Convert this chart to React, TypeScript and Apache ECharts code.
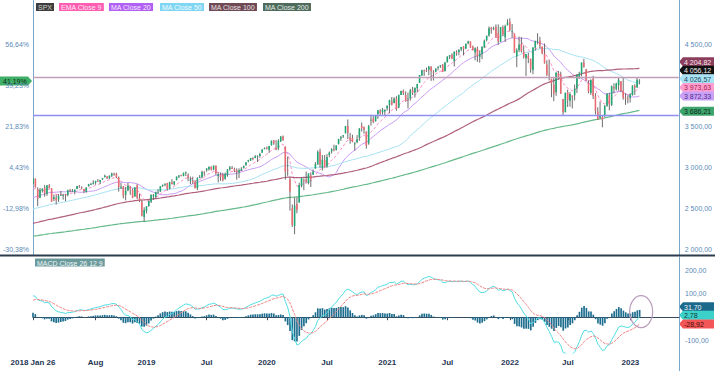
import React, { useEffect, useRef } from "react";
import * as echarts from "echarts";

const FONT = "'Liberation Sans', Arial, Helvetica, sans-serif";

// Weekly closes before the visible window (warm-up for the averages / MACD)
const preCloses2014 = [1865,1815,1864,1863,1881,1878,1878,1900,1924,1949,1937,1963,1961,1985,1968,1978,1978,1925,1931,1955,1988,2003,2008,1985,2010,1982,1968,1906,1887,1965,2018,2032,2039,2064,2068,2075,2003,2071,2089];
const preCloses2015 = [2058,2045,2019,2051,1995,2055,2097,2110,2105,2071,2053,2108,2061,2067,2102,2081,2117,2108,2116,2123,2126,2107,2092,2094,2110,2102,2077,2077,2127,2080,2104,2078,2092,1971,1989,1921,1961,1958,1931,1951,2015,2033,2075,2079,2099,2023,2089,2090,2092,2012,2006,2061,2044];
const preCloses2016 = [1922,1880,1907,1940,1880,1865,1918,1948,2000,2022,2050,2035,2073,2048,2081,2092,2065,2057,2047,2052,2099,2099,2096,2071,2037,2103,2130,2162,2175,2174,2183,2184,2184,2169,2180,2128,2139,2165,2168,2153,2133,2141,2126,2085,2164,2182,2213,2192,2260,2258,2264,2239];
const preCloses2017 = [2277,2275,2271,2295,2297,2316,2351,2367,2383,2373,2378,2344,2363,2356,2329,2349,2384,2399,2391,2382,2416,2439,2432,2433,2438,2423,2425,2459,2473,2472,2477,2441,2426,2443,2477,2461,2500,2502,2519,2549,2553,2575,2581,2588,2582,2579,2602,2642,2652,2675,2683,2674];
const preCloses2018 = [2743,2786,2810];

// Weekly candles from 2018-01-26: [open, high, low, close]
const ohlc2018 = [[2809,2873,2803,2872.87],[2867,2870,2759,2762],[2741,2763,2533,2620],[2636,2754,2631,2732],[2722,2748,2699,2747],[2754,2790,2648,2691],[2681,2787,2658,2787],[2783,2802,2747,2752],[2750,2753,2585,2588],[2619,2675,2594,2641],[2634,2673,2553,2604],[2614,2680,2586,2656],[2670,2718,2660,2670],[2660,2683,2612,2670],[2675,2683,2594,2663],[2669,2733,2652,2728],[2728,2743,2702,2713],[2717,2742,2707,2721],[2705,2736,2676,2735],[2742,2780,2739,2779],[2781,2790,2755,2780],[2764,2774,2742,2755],[2742,2744,2692,2718],[2705,2763,2699,2760],[2776,2804,2770,2801],[2797,2816,2788,2802],[2806,2848,2796,2819],[2820,2841,2795,2840],[2840,2863,2832,2833],[2827,2853,2802,2850],[2858,2877,2853,2875],[2884,2917,2884,2902],[2896,2896,2864,2872],[2871,2906,2867,2905],[2903,2941,2886,2930],[2926,2940,2904,2914],[2927,2940,2874,2886],[2882,2894,2710,2767],[2763,2817,2742,2768],[2773,2779,2628,2659],[2669,2767,2604,2723],[2727,2815,2714,2781],[2773,2775,2671,2736],[2730,2747,2631,2633],[2650,2760,2649,2760],[2790,2800,2621,2633],[2630,2686,2583,2600],[2590,2607,2409,2417],[2401,2520,2347,2486]];
const ohlc2019 = [[2476,2532,2444,2532],[2535,2604,2525,2596],[2586,2675,2571,2671],[2652,2681,2612,2665],[2644,2708,2631,2707],[2708,2739,2682,2708],[2712,2776,2704,2776],[2780,2795,2766,2793],[2804,2813,2775,2804],[2814,2816,2722,2743],[2748,2831,2738,2822],[2823,2861,2800,2801],[2797,2836,2785,2834],[2848,2893,2848,2893],[2892,2911,2874,2907],[2910,2916,2896,2905],[2898,2940,2898,2940],[2940,2954,2900,2946],[2908,2932,2836,2881],[2841,2892,2801,2860],[2841,2892,2805,2826],[2830,2841,2750,2752],[2752,2885,2728,2873],[2886,2911,2874,2887],[2886,2964,2873,2950],[2952,2958,2903,2942],[2972,2995,2952,2990],[2981,3014,2966,3014],[3012,3018,2968,2977],[2978,3028,2970,3026],[3025,3028,2914,2932],[2898,2944,2822,2919],[2916,2943,2840,2889],[2912,2939,2835,2847],[2867,2941,2854,2926],[2909,2985,2891,2979],[2981,3021,2965,3007],[2996,3022,2985,2992],[2983,3002,2946,2962],[2967,2993,2856,2952],[2944,2993,2875,2970],[2966,3008,2962,2986],[2996,3027,2991,3023],[3035,3067,3023,3067],[3079,3097,3066,3093],[3089,3120,3081,3120],[3118,3128,3091,3110],[3118,3154,3117,3141],[3144,3150,3070,3146],[3142,3182,3123,3169],[3183,3226,3183,3221],[3227,3248,3226,3240]];
const ohlc2020 = [[3248,3258,3222,3235],[3218,3267,3181,3265],[3274,3330,3270,3330],[3333,3338,3280,3295],[3248,3337,3214,3226],[3235,3348,3214,3328],[3318,3385,3316,3380],[3380,3393,3328,3338],[3258,3259,2856,2954],[2974,3137,2902,2972],[2863,2883,2478,2711],[2508,2554,2280,2305],[2291,2637,2192,2541],[2558,2641,2447,2489],[2579,2819,2575,2790],[2782,2880,2761,2875],[2845,2871,2728,2837],[2855,2954,2816,2831],[2815,2931,2798,2930],[2908,2945,2766,2864],[2914,2980,2913,2955],[2994,3069,2987,3044],[3039,3212,3039,3194],[3199,3233,2999,3041],[3000,3156,2966,3098],[3095,3155,3004,3009],[3018,3166,2999,3130],[3155,3198,3128,3185],[3201,3238,3174,3225],[3224,3280,3200,3216],[3219,3273,3210,3271],[3288,3352,3284,3351],[3357,3387,3327,3373],[3381,3399,3363,3397],[3419,3509,3419,3508],[3507,3588,3349,3427],[3370,3425,3293,3341],[3363,3402,3310,3319],[3285,3313,3209,3298],[3310,3398,3298,3348],[3368,3482,3328,3477],[3510,3550,3441,3484],[3493,3502,3415,3465],[3441,3442,3233,3270],[3296,3522,3280,3509],[3584,3646,3512,3585],[3600,3628,3543,3558],[3566,3645,3562,3638],[3654,3700,3594,3699],[3698,3712,3645,3663],[3675,3727,3647,3709],[3684,3712,3636,3703],[3723,3760,3695,3756]];
const ohlc2021 = [[3764,3827,3663,3825],[3810,3861,3758,3768],[3788,3859,3784,3841],[3842,3871,3694,3714],[3732,3888,3726,3887],[3886,3938,3885,3935],[3939,3951,3885,3907],[3886,3928,3805,3811],[3842,3915,3723,3842],[3844,3960,3817,3943],[3943,3983,3885,3913],[3916,3975,3854,3975],[3969,4020,3917,4020],[4034,4129,4034,4129],[4124,4192,4118,4185],[4183,4195,4118,4180],[4186,4219,4165,4181],[4191,4238,4126,4233],[4228,4236,4057,4174],[4169,4187,4062,4156],[4168,4213,4161,4204],[4216,4235,4185,4230],[4232,4250,4215,4247],[4255,4262,4164,4166],[4174,4287,4174,4281],[4285,4356,4280,4352],[4352,4372,4321,4370],[4372,4393,4322,4327],[4296,4415,4233,4412],[4409,4430,4363,4395],[4407,4441,4368,4437],[4438,4469,4417,4468],[4477,4481,4367,4442],[4450,4510,4443,4509],[4514,4545,4501,4535],[4536,4538,4456,4459],[4474,4486,4427,4433],[4402,4466,4306,4455],[4449,4475,4288,4357],[4348,4429,4279,4391],[4385,4476,4322,4471],[4464,4560,4460,4545],[4553,4608,4537,4605],[4610,4719,4595,4698],[4707,4713,4631,4683],[4689,4718,4672,4698],[4712,4744,4585,4595],[4640,4744,4496,4538],[4532,4713,4532,4712],[4711,4732,4600,4621],[4588,4740,4531,4726],[4733,4808,4733,4766]];
const ohlc2022 = [[4779,4819,4663,4677],[4656,4749,4582,4663],[4632,4632,4396,4398],[4357,4453,4223,4432],[4432,4596,4405,4501],[4506,4590,4401,4419],[4413,4489,4328,4349],[4332,4385,4115,4385],[4363,4402,4273,4329],[4327,4327,4157,4204],[4188,4466,4138,4463],[4462,4546,4425,4543],[4541,4637,4502,4546],[4548,4593,4450,4488],[4474,4474,4381,4393],[4386,4512,4267,4272],[4256,4308,4117,4132],[4131,4308,4063,4123],[4082,4082,3859,4024],[4013,4091,3811,3901],[3919,4158,3875,4158],[4151,4178,4074,4109],[4135,4169,3900,3901],[3838,3838,3637,3675],[3675,3913,3675,3912],[3920,3951,3739,3825],[3815,3919,3742,3899],[3880,3880,3722,3863],[3883,4013,3819,3962],[3965,4141,3910,4130],[4113,4167,4079,4145],[4142,4281,4112,4280],[4282,4325,4218,4228],[4195,4204,4057,4058],[4034,4062,3907,3924],[3910,4076,3887,4067],[4084,4119,3837,3873],[3875,3908,3648,3693],[3686,3736,3585,3586],[3610,3806,3600,3640],[3619,3642,3492,3583],[3638,3762,3612,3753],[3755,3906,3742,3901],[3881,3912,3698,3771],[3766,4001,3751,3993],[3982,4028,3906,3965],[3956,4034,3940,4026],[4005,4101,3940,4072],[4053,4053,3919,3934],[3940,4101,3828,3852],[3854,3906,3765,3845],[3843,3878,3784,3840]];
const ohlc2023 = [[3853,3906,3794,3895],[3884,4003,3878,3999],[3999,4016,3886,3973],[3978,4094,3974,4071],[4049,4078,4015,4056.12]];

// Axis / labels
const startDate = "2018-01-26";
const slotCount = 280;
const tickDates = ["2018-01-26","2018-08-03","2019-01-04","2019-07-05","2020-01-03","2020-07-03","2021-01-01","2021-07-02","2022-01-07","2022-07-01","2023-01-06"];
const tickTexts = ["2018 Jan 26","Aug","2019","Jul","2020","Jul","2021","Jul","2022","Jul","2023"];
const priceTicks = [2000, 2500, 3000, 3500, 4000, 4500];
const rightPriceTicks = [2000, 2500, 3000, 3500, 4500];
const macdTicks = [-100, 100, 200];
const levelLines = [4100, 3637];

// Indicator legend and last values
const maNames = ["EMA Close 9", "MA Close 20", "MA Close 50", "MA Close 100", "MA Close 200"];
const maLastValues = [3973.63, 3872.33, 4026.57, 4204.82, 3686.21];
const lastPrice = 4056.12;
const macdNames = ["Histogram", "MACD", "Signal"];
const macdLastValues = [31.7, 2.78, -28.92];

const UP = "#1fa774";
const DOWN = "#ec6b72";
const WICK = "#5c5c5c";
const AXIS = "#7aa6c9";
const LABEL = "#5b89b6";
const maColors = ["#ff8cc6", "#c99af5", "#a6e1f3", "#b0607e", "#66b98a"];
const maTagBg = ["#ff9fcf", "#c9a2f7", "#a9e3f6", "#8c3c5c", "#3ea56c"];
const maTagFg = ["#a8204f", "#552a88", "#234a5a", "#f4e6ec", "#0f2c1c"];

function fmtNum(v: number): string {
  const s = Math.abs(v).toFixed(2);
  const [i, d] = s.split(".");
  return (v < 0 ? "-" : "") + i.replace(/\B(?=(\d{3})+(?!\d))/g, " ") + "," + d;
}

function sma(arr: number[], i: number, n: number): number | null {
  if (i - n + 1 < 0) return null;
  let s = 0;
  for (let k = i - n + 1; k <= i; k++) s += arr[k];
  return s / n;
}

function ema(arr: number[], n: number): number[] {
  const k = 2 / (n + 1);
  const out: number[] = [];
  arr.forEach((v, i) => out.push(i === 0 ? v : v * k + out[i - 1] * (1 - k)));
  return out;
}

export default function App() {
  const ref = useRef<HTMLDivElement>(null);

  useEffect(() => {
    if (!ref.current) return;
    const chart = echarts.init(ref.current, undefined, { renderer: "svg" });

    const candles = [...ohlc2018, ...ohlc2019, ...ohlc2020, ...ohlc2021, ...ohlc2022, ...ohlc2023];
    const pre = [...preCloses2014, ...preCloses2015, ...preCloses2016, ...preCloses2017, ...preCloses2018];
    const closes = candles.map((c) => c[3]);
    const all = [...pre, ...closes];
    const off = pre.length;
    const base = closes[0];

    const cats: string[] = [];
    const t0 = Date.parse(startDate + "T00:00:00Z");
    for (let i = 0; i < slotCount; i++) cats.push(new Date(t0 + i * 7 * 864e5).toISOString().slice(0, 10));

    const ema9 = ema(all, 9);
    const maData = [
      closes.map((_, j) => ema9[j + off]),
      closes.map((_, j) => sma(all, j + off, 20)),
      closes.map((_, j) => sma(all, j + off, 50)),
      closes.map((_, j) => sma(all, j + off, 100)),
      closes.map((_, j) => sma(all, j + off, 200)),
    ];
    const e12 = ema(all, 12);
    const e26 = ema(all, 26);
    const macdAll = all.map((_, i) => e12[i] - e26[i]);
    const sigAll = ema(macdAll, 9);
    const macd = closes.map((_, j) => macdAll[j + off]);
    const signal = closes.map((_, j) => sigAll[j + off]);
    const hist = closes.map((_, j) => macdAll[j + off] - sigAll[j + off]);

    const showTick = (_: number, v: string) => tickDates.includes(v);

    const option: any = {
      animation: false,
      grid: [
        { left: 33, right: 36, top: 0, height: 255 },
        { left: 33, right: 36, top: 257, height: 96 },
      ],
      xAxis: [
        { type: "category", gridIndex: 0, data: cats, boundaryGap: false, show: false },
        {
          type: "category", gridIndex: 1, data: cats, boundaryGap: false,
          axisLine: { show: true, lineStyle: { color: "#3a4a5c", width: 1 } },
          axisTick: { show: true, interval: showTick, length: 3, lineStyle: { color: "#3a4a5c" } },
          axisLabel: {
            interval: showTick, margin: 5, fontSize: 8, fontWeight: "bold", color: "#1e3553", fontFamily: FONT,
            formatter: (v: string) => tickTexts[tickDates.indexOf(v)] ?? "",
          },
          splitLine: { show: false },
        },
      ],
      yAxis: [
        {
          type: "value", gridIndex: 0, position: "right", min: 1939, max: 5041,
          axisLine: { show: true, lineStyle: { color: AXIS } }, axisTick: { show: false }, splitLine: { show: false },
          axisLabel: { customValues: rightPriceTicks, formatter: (v: number) => fmtNum(v), fontSize: 7, color: LABEL, fontFamily: FONT, margin: 6 },
        },
        {
          type: "value", gridIndex: 0, position: "left", min: 1939, max: 5041,
          axisLine: { show: true, lineStyle: { color: AXIS } }, axisTick: { show: false }, splitLine: { show: false },
          axisLabel: { customValues: priceTicks, formatter: (v: number) => ((v / base - 1) * 100).toFixed(2).replace(".", ",") + "%", fontSize: 7, color: LABEL, fontFamily: FONT, margin: 4 },
        },
        {
          type: "value", gridIndex: 1, position: "right", min: -154, max: 259,
          axisLine: { show: true, lineStyle: { color: AXIS } }, axisTick: { show: false }, splitLine: { show: false },
          axisLabel: { customValues: macdTicks, formatter: (v: number) => fmtNum(v), fontSize: 7, color: LABEL, fontFamily: FONT, margin: 6 },
        },
      ],
      series: [
        {
          type: "custom", name: "SPX", xAxisIndex: 0, yAxisIndex: 0, silent: true, clip: true,
          data: candles.map((c, i) => [i, c[0], c[1], c[2], c[3]]),
          encode: { x: 0, y: [1, 2, 3, 4] },
          renderItem: (_p: any, api: any) => {
            const i = api.value(0), o = api.value(1), h = api.value(2), l = api.value(3), c = api.value(4);
            const pH = api.coord([i, h]), pL = api.coord([i, l]), pO = api.coord([i, o]), pC = api.coord([i, c]);
            const w = Math.max(api.size([1, 0])[0] * 0.68, 1);
            const top = Math.min(pO[1], pC[1]);
            const ht = Math.max(Math.abs(pO[1] - pC[1]), 0.8);
            return {
              type: "group",
              children: [
                { type: "line", shape: { x1: pH[0], y1: pH[1], x2: pL[0], y2: pL[1] }, style: { stroke: WICK, lineWidth: 0.9 } },
                { type: "rect", shape: { x: pO[0] - w / 2, y: top, width: w, height: ht }, style: { fill: c >= o ? UP : DOWN } },
              ],
            };
          },
          markLine: {
            silent: true, symbol: "none", label: { show: false },
            data: [
              { yAxis: levelLines[0], lineStyle: { color: "#c29db6", width: 1.4, type: "solid" } },
              { yAxis: levelLines[1], lineStyle: { color: "#8f8ff2", width: 1.4, type: "solid" } },
            ],
          },
          z: 3,
        },
        ...maNames.map((n, k) => ({
          type: "line", name: n, xAxisIndex: 0, yAxisIndex: 0, data: maData[k], showSymbol: false, silent: true,
          lineStyle: { color: maColors[k], width: k >= 3 ? 1.2 : 1, type: k === 0 ? [3, 2] : "solid" },
          z: 2,
        })),
        {
          type: "bar", name: macdNames[0], xAxisIndex: 1, yAxisIndex: 2, data: hist, barWidth: "72%", silent: true,
          itemStyle: { color: "#1d6d8e" },
        },
        {
          type: "line", name: macdNames[1], xAxisIndex: 1, yAxisIndex: 2, data: macd, showSymbol: false, silent: true,
          lineStyle: { color: "#4fdde3", width: 1 },
        },
        {
          type: "line", name: macdNames[2], xAxisIndex: 1, yAxisIndex: 2, data: signal, showSymbol: false, silent: true,
          lineStyle: { color: "#f08585", width: 1, type: [3, 1] },
        },
      ],
    };
    chart.setOption(option);

    const W = chart.getWidth();
    const rightX = W - 36;
    const tagH = 9;
    const gap = 8.6;
    const stack = (items: any[]) => {
      items.sort((a, b) => a.y - b.y);
      for (let i = items.length - 2; i >= 0; i--) items[i].y = Math.min(items[i].y, items[i + 1].y - gap);
      return items;
    };
    const yPix = (v: number, axis: number) => chart.convertToPixel({ yAxisIndex: axis } as any, v) as unknown as number;

    const tag = (x: number, y: number, text: string, bg: string, fg: string) => ({
      type: "group", x, y, z: 100,
      children: [
        { type: "polygon", shape: { points: [[0, 0], [4, -tagH / 2], [35, -tagH / 2], [35, tagH / 2], [4, tagH / 2]] }, style: { fill: bg } },
        { type: "text", x: 5, y: 0.5, style: { text, fill: fg, font: `7px ${FONT}`, verticalAlign: "middle", align: "left" } },
      ],
    });

    const mainTags = stack([
      ...maLastValues.map((v, k) => ({ y: yPix(v, 0), text: fmtNum(v), bg: maTagBg[k], fg: maTagFg[k] })),
      { y: yPix(lastPrice, 0), text: fmtNum(lastPrice), bg: "#111111", fg: "#f2f2f2" },
    ]);
    const macdTagBg = ["#1c6a8b", "#3dd2c9", "#f25656"];
    const macdTagFg = ["#eef6fa", "#0f3b3a", "#4a0d0d"];
    const macdTags = stack(macdLastValues.map((v, k) => ({ y: yPix(v, 2), text: fmtNum(v), bg: macdTagBg[k], fg: macdTagFg[k] })));

    const legendX = [36, 59, 109, 160, 209, 263];
    const legendTexts = ["SPX", ...maNames];
    const legendBg = ["#3d3d3d", "#ff5db1", "#b160f5", "#7fd6f3", "#6e4a55", "#4e6b5c"];
    const legendFg = ["#d0d0d0", "#fde8f3", "#f4e9fd", "#f4fbfe", "#ece0e4", "#e3ece7"];

    const pctY = yPix(lastPrice, 0);
    const pctText = ((lastPrice / base - 1) * 100).toFixed(2).replace(".", ",") + "%";

    const lastIdxX = chart.convertToPixel({ xAxisIndex: 1 } as any, cats[candles.length - 1]) as unknown as number;
    const circY = yPix(24, 2);

    const graphic: any[] = [
      { type: "line", z: 90, shape: { x1: 0, y1: 255.5, x2: W, y2: 255.5 }, style: { stroke: "#2c3c4e", lineWidth: 2 } },
      { type: "line", z: 90, shape: { x1: rightX + 0.5, y1: 353, x2: rightX + 0.5, y2: 371 }, style: { stroke: AXIS, lineWidth: 1 } },
      ...legendTexts.map((t, k) => ({
        type: "text", x: legendX[k], y: 3, z: 100,
        style: { text: t, fill: legendFg[k], backgroundColor: legendBg[k], padding: [1, 2, 0, 2], font: `7px ${FONT}` },
      })),
      {
        type: "text", x: 35, y: 258.5, z: 100,
        style: { text: "MACD Close 26 12 9", fill: "#eef5f5", backgroundColor: "#6b9a9c", padding: [1, 2, 0, 2], font: `7px ${FONT}` },
      },
      ...mainTags.map((t) => tag(rightX, t.y, t.text, t.bg, t.fg)),
      ...macdTags.map((t) => tag(rightX, t.y, t.text, t.bg, t.fg)),
      {
        type: "group", x: 0, y: pctY, z: 100,
        children: [
          { type: "polygon", shape: { points: [[0, -4.5], [28, -4.5], [32, 0], [28, 4.5], [0, 4.5]] }, style: { fill: "#3fae66" } },
          { type: "text", x: 3, y: 0.5, style: { text: pctText, fill: "#0c2a16", font: `7px ${FONT}`, verticalAlign: "middle", align: "left" } },
        ],
      },
      {
        type: "ellipse", z: 95, shape: { cx: lastIdxX + 1.5, cy: circY, rx: 11.5, ry: 16 },
        style: { fill: "none", stroke: "#b99cbb", lineWidth: 1.2 },
      },
    ];
    chart.setOption({ graphic });

    return () => chart.dispose();
  }, []);

  return <div ref={ref} style={{ position: "fixed", left: 0, top: 0, width: 715, height: 371, background: "#ffffff" }} />;
}
